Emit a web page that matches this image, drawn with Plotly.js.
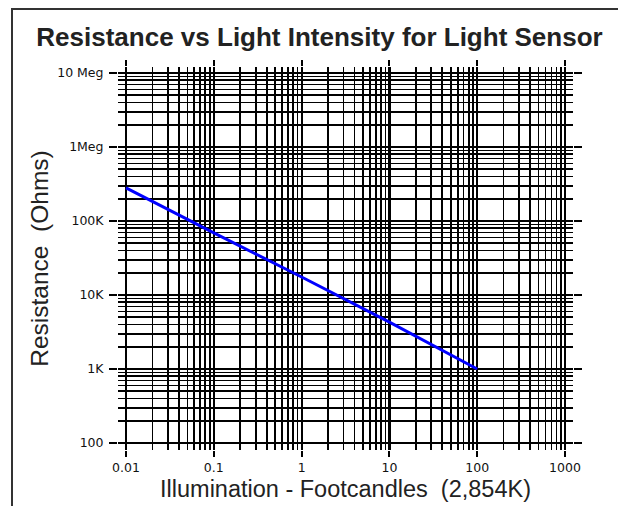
<!DOCTYPE html>
<html>
<head>
<meta charset="utf-8">
<script src="https://cdn.plot.ly/plotly-3.0.1.min.js"></script>
<style>
  html, body { margin: 0; padding: 0; background: #fff; }
  #wrap { position: relative; width: 618px; height: 506px; overflow: hidden; }
  #chart { position: absolute; left: 0; top: 0; width: 618px; height: 506px; }
  #frame { position: absolute; left: 11px; top: 8px; width: 620px; height: 520px;
           border-left: 2px solid #333; border-top: 2px solid #333; pointer-events: none; }
</style>
</head>
<body>
<div id="wrap">
  <div id="chart"></div>
  <div id="frame"></div>
</div>
<script>
// Data
const illumination = [0.01, 0.1, 1, 10, 100];            // footcandles
const resistance   = [280000, 69000, 17500, 4300, 1000];  // ohms

// Tick labels
const xTickVals = [0.01, 0.1, 1, 10, 100, 1000];
const xTickText = ["0.01", "0.1", "1", "10", "100", "1000"];
const yTickVals = [100, 1000, 10000, 100000, 1000000, 10000000];
const yTickText = ["100", "1K", "10K", "100K", "1Meg", "10 Meg"];

// minor grid positions (2..9 within each decade)
function minorVals(decades) {
  const out = [];
  decades.forEach(d => { for (let m = 2; m <= 9; m++) out.push(m * d); });
  return out;
}
const xMinor = minorVals([0.01, 0.1, 1, 10, 100]);
const yMinor = minorVals([100, 1000, 10000, 100000, 1000000]);

const tickFont = { family: "DejaVu Sans, sans-serif", size: 12.5, color: "#111" };
const titleFamily = "Liberation Sans, Arial, sans-serif";

const trace = {
  x: illumination,
  y: resistance,
  type: "scatter",
  mode: "lines",
  line: { color: "#0000ff", width: 3 },
  hoverinfo: "skip"
};

const layout = {
  width: 618,
  height: 506,
  paper_bgcolor: "#ffffff",
  plot_bgcolor: "#ffffff",
  showlegend: false,
  margin: { l: 118, r: 45, t: 67, b: 56, autoexpand: false },
  title: {
    text: "<b>Resistance vs Light Intensity for Light Sensor</b>",
    font: { family: titleFamily, size: 26, color: "#222" },
    xref: "container", x: 0.517, xanchor: "center",
    yref: "container", y: 1 - 37 / 506, yanchor: "middle"
  },
  xaxis: {
    type: "log",
    range: [-2.091, 3.091],
    tickmode: "array",
    tickvals: xTickVals,
    ticktext: xTickText,
    tickfont: tickFont,
    ticks: "outside",
    ticklen: 6,
    tickwidth: 2,
    tickcolor: "#000",
    mirror: "ticks",
    showline: false,
    zeroline: false,
    showgrid: true,
    gridcolor: "#000",
    gridwidth: 2.2,
    minor: { tickmode: "array", tickvals: xMinor, showgrid: true, gridcolor: "#000", gridwidth: 1.7, ticks: "" },
    title: {
      text: "Illumination - Footcandles  (2,854K)",
      font: { family: titleFamily, size: 23.5, color: "#222" },
      standoff: 6
    }
  },
  yaxis: {
    type: "log",
    range: [1.9054, 7.081],
    tickmode: "array",
    tickvals: yTickVals,
    ticktext: yTickText,
    tickfont: tickFont,
    ticklabelstandoff: 3,
    ticks: "outside",
    ticklen: 8,
    tickwidth: 2,
    tickcolor: "#000",
    mirror: "ticks",
    showline: false,
    zeroline: false,
    showgrid: true,
    gridcolor: "#000",
    gridwidth: 2.2,
    minor: { tickmode: "array", tickvals: yMinor, showgrid: true, gridcolor: "#000", gridwidth: 1.7, ticks: "" },
    title: {
      text: "Resistance  (Ohms)",
      font: { family: titleFamily, size: 24.5, color: "#222" },
      standoff: 1
    }
  }
};

Plotly.newPlot("chart", [trace], layout, { displayModeBar: false, staticPlot: true });
</script>
</body>
</html>
